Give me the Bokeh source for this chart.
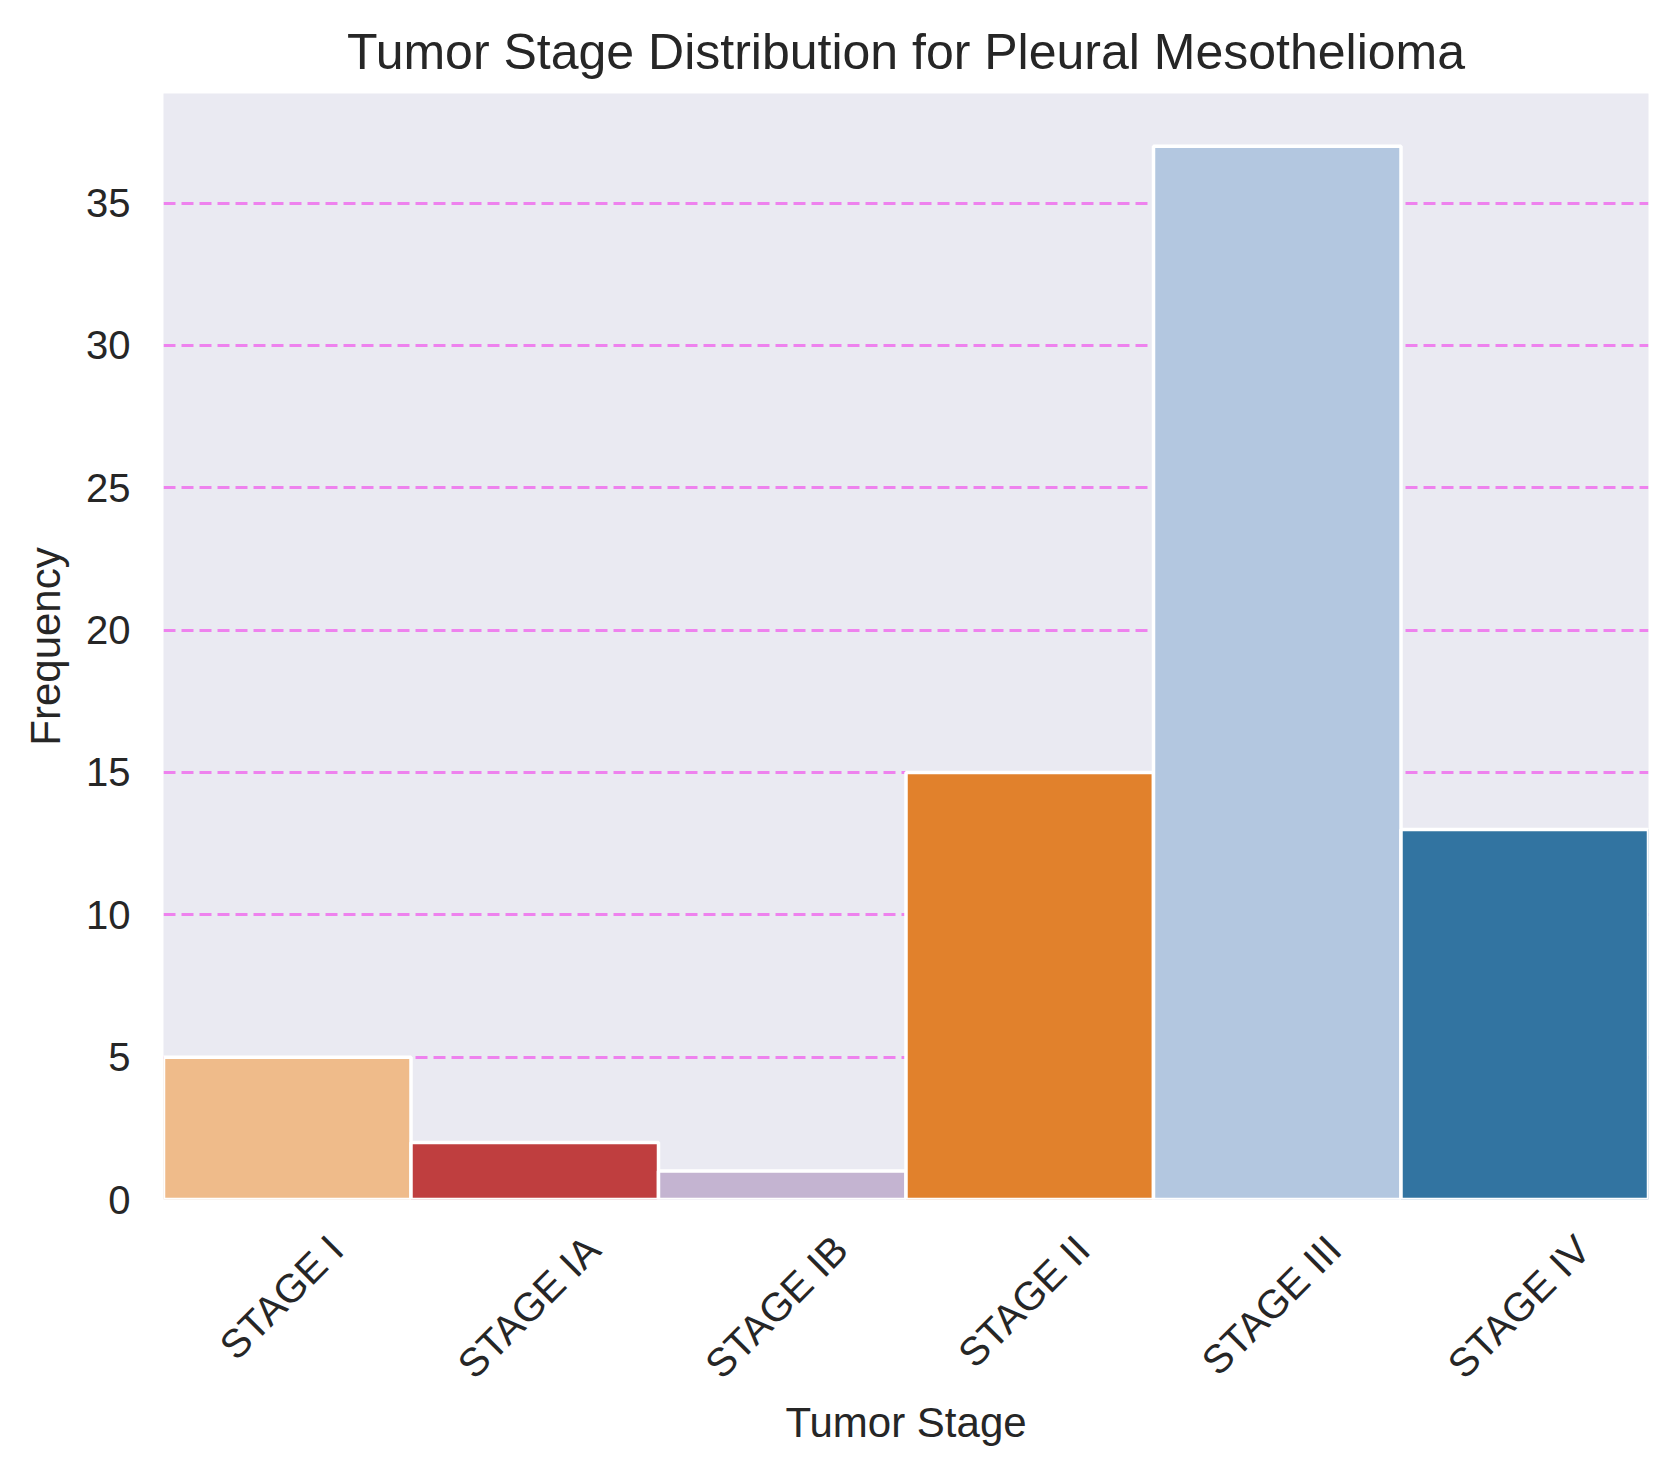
import math
from bokeh.plotting import figure
from bokeh.models import Range1d, ColumnDataSource, FixedTicker
from bokeh.embed import file_html
from bokeh.resources import INLINE

# ---- data ----
stages = ["STAGE I", "STAGE IA", "STAGE IB", "STAGE II", "STAGE III", "STAGE IV"]
counts = [5, 2, 1, 15, 37, 13]
colors = ["#EFBB8A", "#BF3E3F", "#C4B4D1", "#E1812C", "#B3C7E0", "#3274A1"]
y_ticks = [0, 5, 10, 15, 20, 25, 30, 35]

FONT = "Liberation Sans"
TXT = "#262626"
TICK_PX = 40
W, H = 1670, 1470
B_LEFT, B_RIGHT, B_TOP, B_BOTTOM = 163, 22, 93, 271

# category slots on a numeric axis: slot i spans [i, i+1]
slot_centre = [i + 0.5 for i in range(len(stages))]

p = figure(
    width=W, height=H,
    x_range=Range1d(0, len(stages)),
    y_range=Range1d(0, max(counts) * 1.05),
    output_backend="svg", toolbar_location=None,
    min_border_left=B_LEFT, min_border_right=B_RIGHT,
    min_border_top=B_TOP, min_border_bottom=B_BOTTOM,
)
p.background_fill_color = "#EAEAF2"
p.border_fill_color = "white"
p.outline_line_color = None

# title
p.title.text = "Tumor Stage Distribution for Pleural Mesothelioma"
p.title.text_font = FONT
p.title.text_font_size = "50px"
p.title.text_font_style = "normal"
p.title.text_color = TXT
p.title.align = "center"
p.title.standoff = 27

# grid
p.xgrid.visible = False
p.ygrid.ticker = y_ticks
p.ygrid.grid_line_color = "#EE82EE"
p.ygrid.grid_line_width = 3
p.ygrid.grid_line_dash = "12 6"

# bars
src = ColumnDataSource(dict(x=slot_centre, stage=stages, count=counts, color=colors))
p.vbar(x="x", top="count", width=1.0, source=src, fill_color="color",
       line_color="white", line_width=3.5)

# y axis
ya = p.yaxis[0]
ya.ticker = y_ticks
ya.axis_line_color = None
ya.major_tick_line_color = None
ya.minor_tick_line_color = None
ya.major_tick_out = 0
ya.major_tick_in = 0
ya.major_label_standoff = 33
ya.major_label_text_font = FONT
ya.major_label_text_font_size = f"{TICK_PX}px"
ya.major_label_text_color = TXT
ya.axis_label = "Frequency"
ya.axis_label_text_font = FONT
ya.axis_label_text_font_size = "42px"
ya.axis_label_text_font_style = "normal"
ya.axis_label_text_color = TXT
ya.axis_label_standoff = 14

# Bokeh anchors a rotated tick label at its right end; shift each tick so that
# the rotated label box sits centred under its bar (as matplotlib does).
adv = {'S': .667, 'T': .611, 'A': .667, 'G': .778, 'E': .667, ' ': .278,
       'I': .278, 'B': .667, 'V': .667}
px_per_cat = (W - B_LEFT - B_RIGHT) / len(stages)


def label_tick(c, s):
    w = sum(adv[ch] for ch in s) * TICK_PX
    return c + (w / (2 * math.sqrt(2)) - 7) / px_per_cat


tick_pos = [label_tick(c, s) for c, s in zip(slot_centre, stages)]
xa = p.xaxis[0]
xa.ticker = FixedTicker(ticks=tick_pos)
xa.major_label_overrides = {t: s for t, s in zip(tick_pos, stages)}
xa.major_label_orientation = math.pi / 4
xa.axis_line_color = None
xa.major_tick_line_color = None
xa.minor_tick_line_color = None
xa.major_tick_out = 0
xa.major_tick_in = 0
xa.major_label_standoff = 43
xa.major_label_text_font = FONT
xa.major_label_text_font_size = f"{TICK_PX}px"
xa.major_label_text_color = TXT
xa.axis_label = "Tumor Stage"
xa.axis_label_text_font = FONT
xa.axis_label_text_font_size = "42px"
xa.axis_label_text_font_style = "normal"
xa.axis_label_text_color = TXT
xa.axis_label_standoff = -6

open("out.html", "w").write(file_html(p, INLINE))
